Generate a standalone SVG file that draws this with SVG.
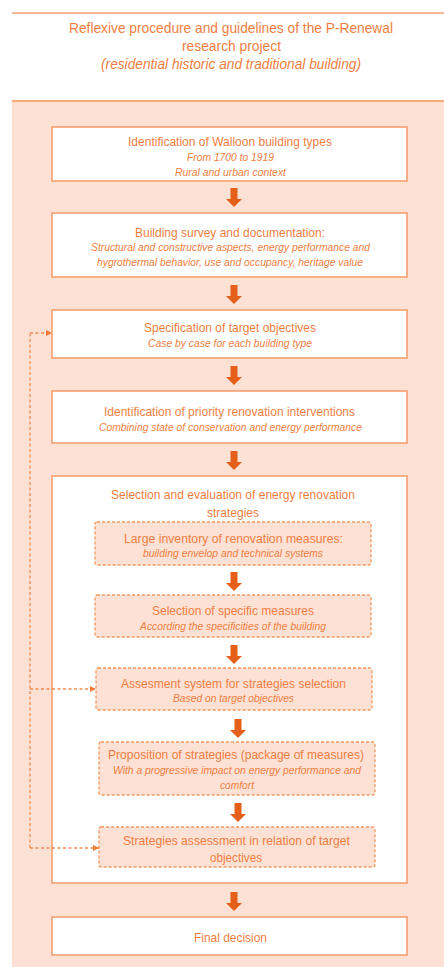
<svg xmlns="http://www.w3.org/2000/svg" width="444" height="967" viewBox="0 0 444 967">
<style>
text{font-family:"Liberation Sans",Arial,sans-serif;fill:#F07E42;text-anchor:middle}
.h{font-size:15px}
.t{font-size:13.5px}
.s{font-size:10.5px;font-style:italic}
.box{fill:#FFFFFF;stroke:#F5A06C;stroke-width:1.6}
.dbox{fill:#FDE1D4;stroke:#F3965E;stroke-width:1.3;stroke-dasharray:3 2}
.arrow{fill:#E4601A}
.conn{fill:none;stroke:#F08A50;stroke-width:1.3;stroke-dasharray:3 2.5}
</style>
<defs>
<path id="ar" d="M-3.5,0 H3.5 V11 H8 L0,19 L-8,11 H-3.5 Z"/>
<marker id="mh" viewBox="0 0 6 6" refX="6" refY="3" markerWidth="6" markerHeight="6" markerUnits="userSpaceOnUse" orient="auto">
<path d="M0,0 L6,3 L0,6 Z" fill="#F07A3A"/>
</marker>
</defs>
<rect x="0" y="0" width="444" height="967" fill="#FFFFFF"/>
<g id="header">
<line x1="12" y1="13" x2="444" y2="13" stroke="#F8B996" stroke-width="2"/>
<text class="h" x="231" y="33" textLength="324" lengthAdjust="spacingAndGlyphs">Reflexive procedure and guidelines of the P-Renewal</text>
<text class="h" x="231.5" y="51" textLength="99" lengthAdjust="spacingAndGlyphs">research project</text>
<text class="h" x="231" y="69" font-style="italic" textLength="260" lengthAdjust="spacingAndGlyphs">(residential historic and traditional building)</text>
</g>
<g id="panel">
<rect x="12" y="101" width="432" height="866" fill="#FDE1D4"/>
<line x1="12" y1="101" x2="444" y2="101" stroke="#F9A878" stroke-width="2"/>
</g>
<g id="n1">
<rect class="box" x="52" y="127" width="355" height="54"/>
<text class="t" x="230" y="145.5" textLength="204" lengthAdjust="spacingAndGlyphs">Identification of Walloon building types</text>
<text class="s" x="230.5" y="160.5" textLength="87" lengthAdjust="spacingAndGlyphs">From 1700 to 1919</text>
<text class="s" x="230.5" y="175.5" textLength="111" lengthAdjust="spacingAndGlyphs">Rural and urban context</text>
</g>
<g id="n2">
<rect class="box" x="52" y="213" width="355" height="64"/>
<text class="t" x="230" y="236.5" textLength="190" lengthAdjust="spacingAndGlyphs">Building survey and documentation:</text>
<text class="s" x="230.5" y="250.5" textLength="279" lengthAdjust="spacingAndGlyphs">Structural and constructive aspects, energy performance and</text>
<text class="s" x="230" y="265.5" textLength="266" lengthAdjust="spacingAndGlyphs">hygrothermal behavior, use and occupancy, heritage value</text>
</g>
<g id="n3">
<rect class="box" x="52" y="310" width="355" height="48"/>
<text class="t" x="230" y="331.5" textLength="172" lengthAdjust="spacingAndGlyphs">Specification of target objectives</text>
<text class="s" x="230" y="346.5" textLength="164" lengthAdjust="spacingAndGlyphs">Case by case for each building type</text>
</g>
<g id="n4">
<rect class="box" x="52" y="391" width="355" height="52"/>
<text class="t" x="229.5" y="415.5" textLength="251" lengthAdjust="spacingAndGlyphs">Identification of priority renovation interventions</text>
<text class="s" x="230.5" y="430.5" textLength="263" lengthAdjust="spacingAndGlyphs">Combining state of conservation and energy performance</text>
</g>
<g id="n5">
<rect class="box" x="52" y="476" width="355" height="407"/>
<text class="t" x="233" y="498.5" textLength="244" lengthAdjust="spacingAndGlyphs">Selection and evaluation of energy renovation</text>
<text class="t" x="233" y="516.5" textLength="52" lengthAdjust="spacingAndGlyphs">strategies</text>
</g>
<g id="n5a">
<rect class="dbox" x="95" y="522" width="276" height="43" rx="2"/>
<text class="t" x="233.5" y="542.5" textLength="219" lengthAdjust="spacingAndGlyphs">Large inventory of renovation measures:</text>
<text class="s" x="233" y="556.5" textLength="180" lengthAdjust="spacingAndGlyphs">building envelop and technical systems</text>
</g>
<g id="n5b">
<rect class="dbox" x="95" y="595" width="276" height="42" rx="2"/>
<text class="t" x="233" y="614.5" textLength="162" lengthAdjust="spacingAndGlyphs">Selection of specific measures</text>
<text class="s" x="233" y="629.5" textLength="186" lengthAdjust="spacingAndGlyphs">According the specificities of the building</text>
</g>
<g id="n5c">
<rect class="dbox" x="96" y="668" width="276" height="42" rx="2"/>
<text class="t" x="233.5" y="687.5" textLength="225" lengthAdjust="spacingAndGlyphs">Assesment system for strategies selection</text>
<text class="s" x="233.5" y="701.5" textLength="121" lengthAdjust="spacingAndGlyphs">Based on target objectives</text>
</g>
<g id="n5d">
<rect class="dbox" x="99" y="742" width="276" height="53" rx="2"/>
<text class="t" x="236" y="758.5" textLength="256" lengthAdjust="spacingAndGlyphs">Proposition of strategies (package of measures)</text>
<text class="s" x="237" y="773.5" textLength="248" lengthAdjust="spacingAndGlyphs">With a progressive impact on energy performance and</text>
<text class="s" x="237" y="788.5" textLength="34" lengthAdjust="spacingAndGlyphs">comfort</text>
</g>
<g id="n5e">
<rect class="dbox" x="99" y="827" width="276" height="40" rx="2"/>
<text class="t" x="236.5" y="844.5" textLength="227" lengthAdjust="spacingAndGlyphs">Strategies assessment in relation of target</text>
<text class="t" x="236" y="861.5" textLength="52" lengthAdjust="spacingAndGlyphs">objectives</text>
</g>
<g id="n6">
<rect class="box" x="52" y="917" width="355" height="38"/>
<text class="t" x="230.5" y="941.5" textLength="73" lengthAdjust="spacingAndGlyphs">Final decision</text>
</g>
<g id="connectors">
<use href="#ar" class="arrow" transform="translate(234,188)"/>
<use href="#ar" class="arrow" transform="translate(234,285)"/>
<use href="#ar" class="arrow" transform="translate(234,366)"/>
<use href="#ar" class="arrow" transform="translate(234,451)"/>
<use href="#ar" class="arrow" transform="translate(234,572)"/>
<use href="#ar" class="arrow" transform="translate(234,645)"/>
<use href="#ar" class="arrow" transform="translate(238,719)"/>
<use href="#ar" class="arrow" transform="translate(238,803)"/>
<use href="#ar" class="arrow" transform="translate(234,892)"/>
<path class="conn" d="M30,848 V333"/>
<path class="conn" d="M30,333 H52" marker-end="url(#mh)"/>
<path class="conn" d="M30,689 H96" marker-end="url(#mh)"/>
<path class="conn" d="M30,848 H99" marker-end="url(#mh)"/>
</g>
</svg>
